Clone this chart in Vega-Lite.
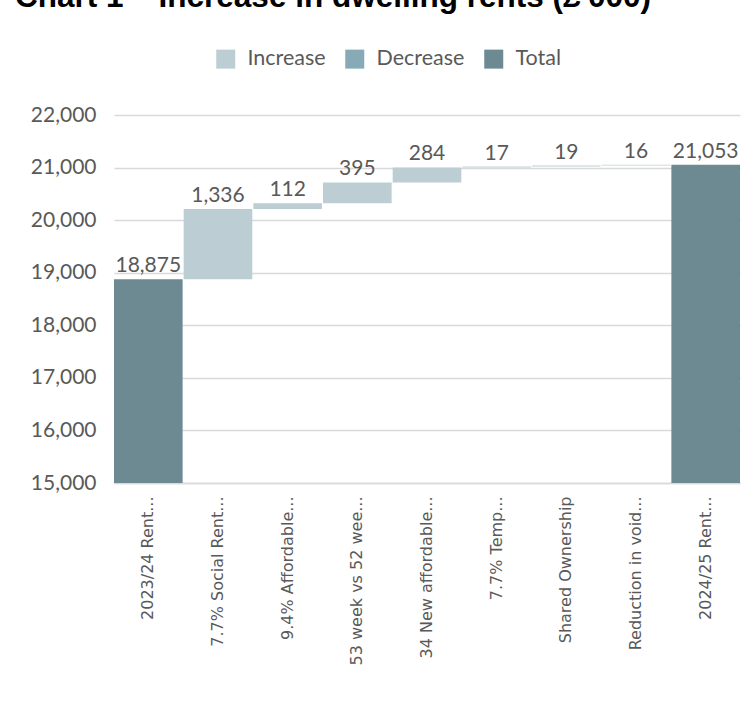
{
  "$schema": "https://vega.github.io/schema/vega-lite/v6.json",
  "width": 626,
  "height": 368,
  "autosize": {"type": "none"},
  "padding": {"left": 114, "top": 115, "right": 8, "bottom": 223},
  "background": "white",
  "title": {
    "text": "Chart 1 – Increase in dwelling rents (£'000)",
    "font": "Liberation Sans",
    "fontWeight": "bold",
    "fontSize": 31.5,
    "color": "#000000",
    "anchor": "start",
    "frame": "group",
    "baseline": "alphabetic",
    "offset": 10,
    "dx": -99
  },
  "data": {
    "values": [
      {"label": "2023/24 Rent...", "start": 0, "end": 18875, "amount": 18875, "type": "Total"},
      {"label": "7.7% Social Rent...", "start": 18875, "end": 20211, "amount": 1336, "type": "Increase"},
      {"label": "9.4% Affordable...", "start": 20211, "end": 20323, "amount": 112, "type": "Increase"},
      {"label": "53 week vs 52 wee...", "start": 20323, "end": 20718, "amount": 395, "type": "Increase"},
      {"label": "34 New affordable...", "start": 20718, "end": 21002, "amount": 284, "type": "Increase"},
      {"label": "7.7% Temp...", "start": 21002, "end": 21019, "amount": 17, "type": "Increase"},
      {"label": "Shared Ownership", "start": 21019, "end": 21038, "amount": 19, "type": "Increase"},
      {"label": "Reduction in void...", "start": 21038, "end": 21054, "amount": 16, "type": "Increase"},
      {"label": "2024/25 Rent...", "start": 0, "end": 21053, "amount": 21053, "type": "Total"}
    ]
  },
  "encoding": {
    "x": {
      "field": "label",
      "type": "nominal",
      "sort": null,
      "scale": {"paddingInner": 0.015, "paddingOuter": 0},
      "axis": {
        "title": null,
        "labelAngle": -90,
        "labelAlign": "right",
        "labelBaseline": "middle",
        "labelFont": "DejaVu Sans",
        "labelFontSize": 16,
        "labelColor": "#595959",
        "labelPadding": 13,
        "labelLimit": 300,
        "ticks": false,
        "domainColor": "#d9d9d9",
        "domainWidth": 1.5
      }
    }
  },
  "layer": [
    {
      "mark": {"type": "bar", "clip": true},
      "encoding": {
        "y": {
          "field": "start",
          "type": "quantitative",
          "scale": {"domain": [15000, 22000], "zero": false, "nice": false},
          "axis": {
            "title": null,
            "values": [15000, 16000, 17000, 18000, 19000, 20000, 21000, 22000],
            "format": ",.0f",
            "labelFont": "Lato",
            "labelFontSize": 21,
            "labelColor": "#595959",
            "labelPadding": 18,
            "ticks": false,
            "domain": false,
            "gridColor": "#d9d9d9",
            "gridWidth": 1.5
          }
        },
        "y2": {"field": "end"},
        "color": {
          "field": "type",
          "type": "nominal",
          "scale": {
            "domain": ["Increase", "Decrease", "Total"],
            "range": ["#bccdd3", "#86abb6", "#6d8a93"]
          },
          "legend": {
            "title": null,
            "orient": "none",
            "direction": "horizontal",
            "legendX": 101,
            "legendY": -67,
            "symbolType": "square",
            "symbolSize": 361,
            "symbolStrokeWidth": 0,
            "labelFont": "Lato",
            "labelFontSize": 21.5,
            "labelColor": "#595959",
            "labelOffset": 11,
            "columnPadding": 18
          }
        }
      }
    },
    {
      "mark": {
        "type": "text",
        "baseline": "bottom",
        "dy": -3,
        "font": "Lato",
        "fontSize": 21,
        "color": "#595959"
      },
      "encoding": {
        "y": {"field": "end", "type": "quantitative"},
        "text": {"field": "amount", "type": "quantitative", "format": ","}
      }
    }
  ],
  "config": {
    "view": {"stroke": null}
  }
}
